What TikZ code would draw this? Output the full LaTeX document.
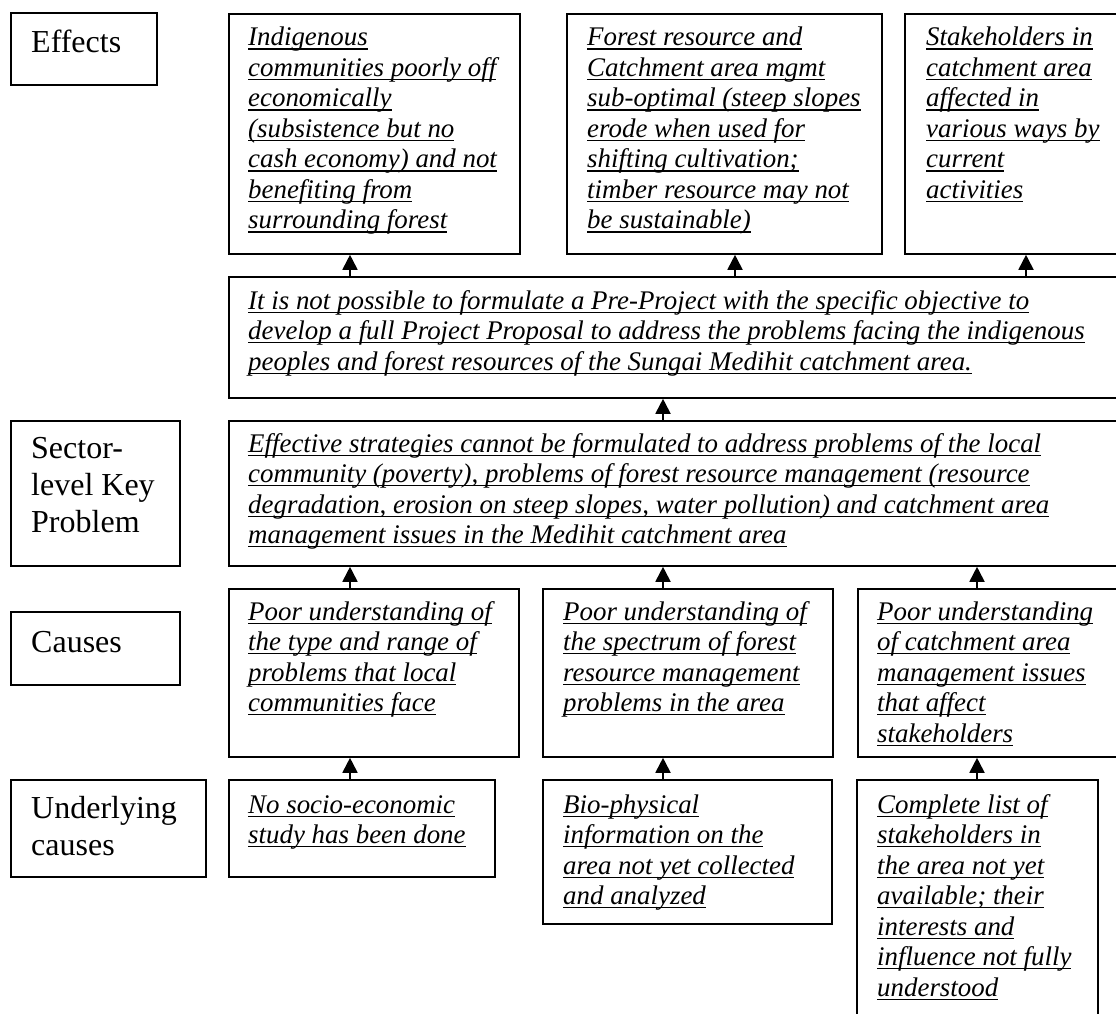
\documentclass[tikz,border=0pt]{standalone}
\usepackage{fontspec}
\setmainfont{Liberation Serif}
\usetikzlibrary{arrows.meta}
\newcommand\ulx[1]{\setbox0\hbox{#1}\rlap{\rule[-3.6pt]{\wd0}{1.1pt}}\box0}
\newcommand\tlines[1]{\begin{tabular}[t]{@{}l@{}}#1\end{tabular}}
\tikzset{
  box/.style={draw, line width=1.8pt, rectangle, inner sep=0pt, anchor=north west},
  itx/.style={anchor=base west, inner sep=0pt, font=\fontsize{26.9}{30.5}\selectfont\itshape},
  lab/.style={anchor=base west, inner sep=0pt, font=\fontsize{32}{37}\selectfont},
  arr/.style={line width=1.8pt, -{Triangle[width=15pt,length=15pt]}}
}
\begin{document}
\begin{tikzpicture}[x=1pt,y=-1pt]
\fill[white] (0,0) rectangle (1116,1014);
\useasboundingbox (0,0) rectangle (1116,1014);
% columns for connectors
\coordinate (A) at (350,0);
\coordinate (B) at (663,0);
\coordinate (C) at (977,0);
\coordinate (D) at (735,0);
\coordinate (E) at (1026,0);
% label boxes
\node[box, minimum width=146pt, minimum height=72pt] (lEff) at (10,12) {};
\node[lab] (lEfft) at (31,53) {\tlines{Effects}};
\node[box, minimum width=169pt, minimum height=145pt] (lSec) at (10,420) {};
\node[lab] (lSect) at (31,458) {\tlines{Sector-\\level Key\\Problem}};
\node[box, minimum width=169pt, minimum height=73pt] (lCau) at (10,611) {};
\node[lab] (lCaut) at (31,652) {\tlines{Causes}};
\node[box, minimum width=195pt, minimum height=97pt] (lUnd) at (10,779) {};
\node[lab] (lUndt) at (31,818) {\tlines{Underlying\\causes}};
% effects
\node[box, minimum width=291pt, minimum height=240pt] (e1) at (228,13) {};
\node[itx] (e1t) at (248,46) {\tlines{\ulx{Indigenous}\\\ulx{communities poorly off}\\\ulx{economically}\\\ulx{(subsistence but no}\\\ulx{cash economy) and not}\\\ulx{benefiting from}\\\ulx{surrounding forest}}};
\node[box, minimum width=315pt, minimum height=240pt] (e2) at (566,13) {};
\node[itx] (e2t) at (587,46) {\tlines{\ulx{Forest resource and}\\\ulx{Catchment area mgmt}\\\ulx{sub-optimal (steep slopes}\\\ulx{erode when used for}\\\ulx{shifting cultivation;}\\\ulx{timber resource may not}\\\ulx{be sustainable)}}};
\node[box, minimum width=226pt, minimum height=240pt] (e3) at (904,13) {};
\node[itx] (e3t) at (926,46) {\tlines{\ulx{Stakeholders in}\\\ulx{catchment area}\\\ulx{affected in}\\\ulx{various ways by}\\\ulx{current}\\\ulx{activities}}};
% pre-project
\node[box, minimum width=902pt, minimum height=121pt] (pre) at (228,276) {};
\node[itx] (pret) at (248,309) {\tlines{\ulx{It is not possible to formulate a Pre-Project with the specific objective to}\\\ulx{develop a full Project Proposal to address the problems facing the indigenous}\\\ulx{peoples and forest resources of the Sungai Medihit catchment area.}}};
% key problem
\node[box, minimum width=902pt, minimum height=145pt] (key) at (228,420) {};
\node[itx] (keyt) at (248,452) {\tlines{\ulx{Effective strategies cannot be formulated to address problems of the local}\\\ulx{community (poverty), problems of forest resource management (resource}\\\ulx{degradation, erosion on steep slopes, water pollution) and catchment area}\\\ulx{management issues in the Medihit catchment area}}};
% causes
\node[box, minimum width=290pt, minimum height=168pt] (c1) at (228,588) {};
\node[itx] (c1t) at (248,620) {\tlines{\ulx{Poor understanding of}\\\ulx{the type and range of}\\\ulx{problems that local}\\\ulx{communities face}}};
\node[box, minimum width=290pt, minimum height=168pt] (c2) at (542,588) {};
\node[itx] (c2t) at (563,620) {\tlines{\ulx{Poor understanding of}\\\ulx{the spectrum of forest}\\\ulx{resource management}\\\ulx{problems in the area}}};
\node[box, minimum width=273pt, minimum height=168pt] (c3) at (857,588) {};
\node[itx] (c3t) at (877,620) {\tlines{\ulx{Poor understanding}\\\ulx{of catchment area}\\\ulx{management issues}\\\ulx{that affect}\\\ulx{stakeholders}}};
% underlying causes
\node[box, minimum width=266pt, minimum height=97pt] (u1) at (228,779) {};
\node[itx] (u1t) at (248,813) {\tlines{\ulx{No socio-economic}\\\ulx{study has been done}}};
\node[box, minimum width=289pt, minimum height=144pt] (u2) at (542,779) {};
\node[itx] (u2t) at (563,813) {\tlines{\ulx{Bio-physical}\\\ulx{information on the}\\\ulx{area not yet collected}\\\ulx{and analyzed}}};
\node[box, minimum width=241pt, minimum height=260pt] (u3) at (856,779) {};
\node[itx] (u3t) at (877,813) {\tlines{\ulx{Complete list of}\\\ulx{stakeholders in}\\\ulx{the area not yet}\\\ulx{available; their}\\\ulx{interests and}\\\ulx{influence not fully}\\\ulx{understood}}};
% connectors
\draw[arr] (pre.north -| A) -- (e1.south -| A);
\draw[arr] (pre.north -| D) -- (e2.south -| D);
\draw[arr] (pre.north -| E) -- (e3.south -| E);
\draw[arr] (key.north -| B) -- (pre.south -| B);
\draw[arr] (c1.north -| A) -- (key.south -| A);
\draw[arr] (c2.north -| B) -- (key.south -| B);
\draw[arr] (c3.north -| C) -- (key.south -| C);
\draw[arr] (u1.north -| A) -- (c1.south -| A);
\draw[arr] (u2.north -| B) -- (c2.south -| B);
\draw[arr] (u3.north -| C) -- (c3.south -| C);
\end{tikzpicture}
\end{document}
